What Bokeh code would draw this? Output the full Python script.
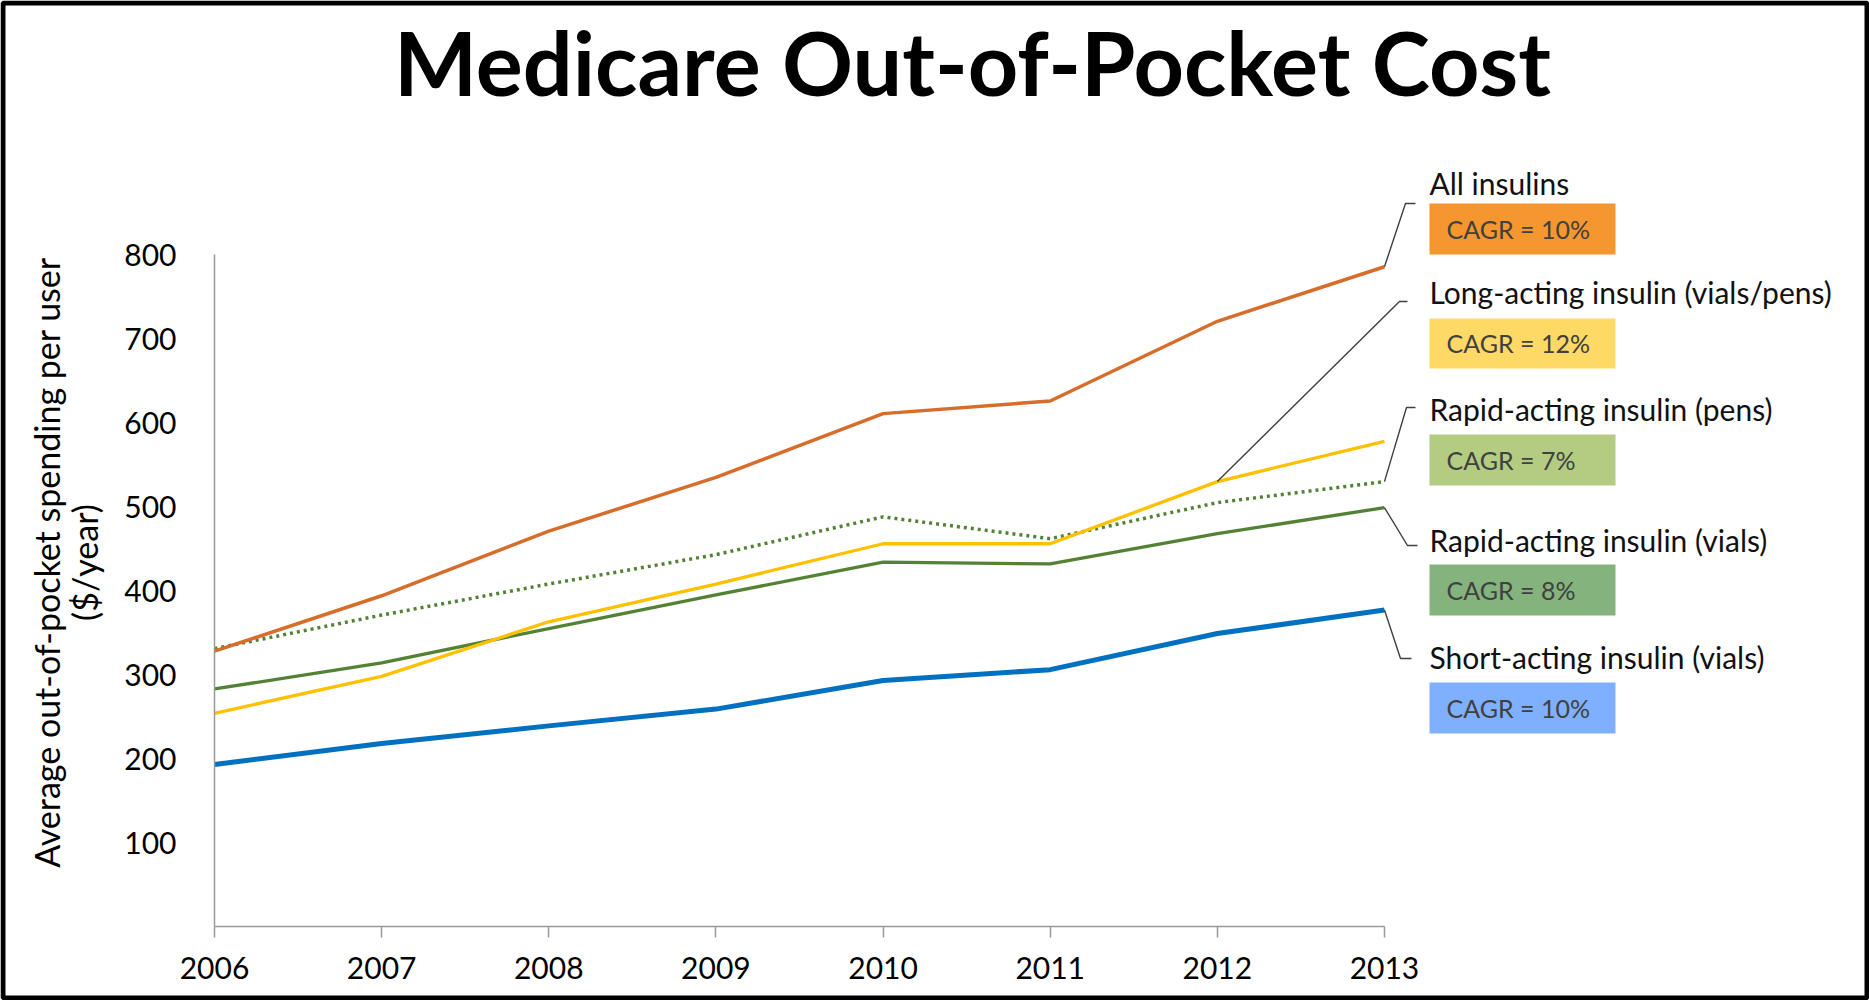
import math
from bokeh.plotting import figure
from bokeh.models import Range1d, FixedTicker, Label, BoxAnnotation
from bokeh.embed import file_html
from bokeh.resources import INLINE

# ---------------- data ----------------
years = [2006, 2007, 2008, 2009, 2010, 2011, 2012, 2013]
all_insulins = [328, 394, 471, 535, 611, 626, 721, 786]
long_acting = [254, 298, 363, 408, 456, 456, 530, 578]
rapid_pens = [331, 371, 408, 443, 488, 462, 505, 530]
rapid_vials = [283, 314, 355, 395, 434, 432, 468, 499]
short_vials = [193, 218, 239, 259, 293, 306, 349, 377]

series_names = ["All insulins", "Long-acting insulin (vials/pens)",
                "Rapid-acting insulin (pens)", "Rapid-acting insulin (vials)",
                "Short-acting insulin (vials)"]
cagr_labels = ["CAGR = 10%", "CAGR = 12%", "CAGR = 7%", "CAGR = 8%", "CAGR = 10%"]
y_ticks = [100, 200, 300, 400, 500, 600, 700, 800]
title_text = "Medicare Out-of-Pocket Cost"
y_title_lines = ["Average out-of-pocket spending per user", "($/year)"]

# ---------------- layout (canvas pixels) ----------------
W, H = 1869, 1000
AXIS_X = 214                  # canvas x of the y axis
AXIS_Y = 926                  # canvas y of the x axis
PX_YEAR = 167.14
PX_UNIT = 0.8394
BASE_SHIFT = 0.38             # label baseline correction (fraction of font size)

def dx(px):
    return years[0] + (px - AXIS_X) / PX_YEAR

def dy(py):
    return (AXIS_Y - py) / PX_UNIT

p = figure(width=W, height=H, output_backend="svg", toolbar_location=None,
           x_range=Range1d(dx(0), dx(W)), y_range=Range1d(dy(H), dy(0)),
           min_border=0, min_border_left=0, min_border_right=0,
           min_border_top=0, min_border_bottom=0)
p.outline_line_color = None
p.grid.visible = False
p.background_fill_color = "white"
p.border_fill_color = "white"

AXIS_COLOR = "#9a9a9a"
xa = p.xaxis[0]
xa.fixed_location = 0
xa.ticker = FixedTicker(ticks=years)
xa.bounds = (years[0], years[-1])
xa.axis_line_color = AXIS_COLOR
xa.axis_line_width = 1.5
xa.major_tick_line_color = AXIS_COLOR
xa.major_tick_line_width = 1.5
xa.major_tick_out = 11
xa.major_tick_in = 0
xa.minor_tick_line_color = None
xa.major_label_text_font = "Lato"
xa.major_label_text_font_size = "30px"
xa.major_label_text_color = "black"
xa.major_label_standoff = 19

ya = p.yaxis[0]
ya.fixed_location = years[0]
ya.ticker = FixedTicker(ticks=y_ticks)
ya.bounds = (0, y_ticks[-1])
ya.axis_line_color = AXIS_COLOR
ya.axis_line_width = 1.5
ya.major_tick_line_color = None
ya.major_tick_out = 0
ya.major_tick_in = 0
ya.minor_tick_line_color = None
ya.major_label_text_font = "Lato"
ya.major_label_text_font_size = "30px"
ya.major_label_text_color = "black"
ya.major_label_standoff = 38

# series
p.line(years, rapid_pens, line_color="#548235", line_width=3.5, line_dash="3 4")
p.line(years, rapid_vials, line_color="#548235", line_width=3.3)
p.line(years, long_acting, line_color="#FFC000", line_width=3.3)
p.line(years, all_insulins, line_color="#D66D2B", line_width=3.5)
p.line(years, short_vials, line_color="#0070C0", line_width=5)

# callouts
box_colors = ["#F5962F", "#FED966", "#B3CC82", "#85B37E", "#7FB0FF"]
anchor_points = [(years[-1], all_insulins[-1]), (years[-2], long_acting[-2]),
                 (years[-1], rapid_pens[-1]), (years[-1], rapid_vials[-1]),
                 (years[-1], short_vials[-1])]
elbow_px = [(1405, 203, 1415), (1399, 301, 1407), (1406, 407, 1415),
            (1407, 545, 1417), (1400, 658, 1411)]
label_baseline_px = [194, 303, 420, 551, 668]
box_top_px = [203, 318, 434, 564, 682]
box_bot_px = [254, 368, 485, 615, 733]
BOX_L, BOX_R, TEXT_L, BOXTEXT_L = 1429, 1615, 1429, 1446
LABEL_SIZE, BOX_SIZE, TITLE_SIZE = 30, 25, 88

for i in range(5):
    ax, ay = anchor_points[i]
    ex, ey, hx = elbow_px[i]
    p.line([ax, dx(ex), dx(hx)], [ay, dy(ey), dy(ey)],
           line_color="#404040", line_width=1.4)
    p.quad(left=dx(BOX_L), right=dx(BOX_R), top=dy(box_top_px[i]),
           bottom=dy(box_bot_px[i]), fill_color=box_colors[i], line_color=None)
    p.add_layout(Label(x=dx(TEXT_L), y=dy(label_baseline_px[i] - BASE_SHIFT * LABEL_SIZE),
                       text=series_names[i], text_font="Lato",
                       text_font_size=f"{LABEL_SIZE}px", text_color="#111111",
                       text_align="left", text_baseline="alphabetic"))
    mid = (box_top_px[i] + box_bot_px[i]) / 2
    p.add_layout(Label(x=dx(BOXTEXT_L), y=dy(mid + 9 - BASE_SHIFT * BOX_SIZE),
                       text=cagr_labels[i], text_font="Lato",
                       text_font_size=f"{BOX_SIZE}px", text_color="#404040",
                       text_align="left", text_baseline="alphabetic"))

# title
p.add_layout(Label(x=dx(972), y=dy(95 - BASE_SHIFT * TITLE_SIZE), text=title_text,
                   text_font="Lato", text_font_size=f"{TITLE_SIZE}px",
                   text_font_style="bold", text_color="black",
                   text_align="center", text_baseline="alphabetic"))

# y-axis title (two centred lines)
for xc, txt in zip([46, 84], y_title_lines):
    p.add_layout(Label(x=dx(xc), y=dy(562), text=txt, angle=math.pi / 2,
                       text_font="Lato", text_font_size="34px", text_color="black",
                       text_align="center", text_baseline="middle"))

# outer black frame
p.add_layout(BoxAnnotation(left=2.5, right=W - 2.5, top=2.5, bottom=H - 2.5,
                           left_units="canvas", right_units="canvas",
                           top_units="canvas", bottom_units="canvas",
                           fill_alpha=0, line_color="black", line_alpha=1.0,
                           line_width=5))

open("out.html", "w").write(file_html(p, INLINE))
